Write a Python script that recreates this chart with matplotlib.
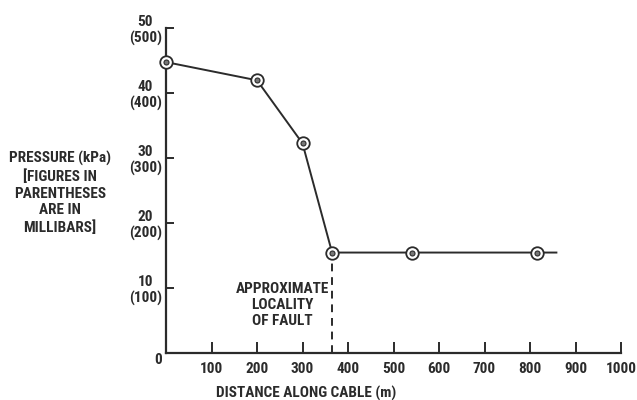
import matplotlib.pyplot as plt

# cable pressure survey
distancia = [0, 200, 300, 365, 540, 815]
pressao = [44.8, 42.0, 32.3, 15.5, 15.5, 15.5]
fim_linha = 858
falha = 365

xticks = [100, 200, 300, 400, 500, 600, 700, 800, 900, 1000]
yticks = [0, 10, 20, 30, 40, 50]
ylabels = ["0", "10\n(100)", "20\n(200)", "30\n(300)", "40\n(400)", "50\n(500)"]

cor = "#2b2b2b"
plt.rcParams['font.family'] = ['Roboto Condensed', 'DejaVu Sans']
peso = 'bold'
tam = 11

fig = plt.figure(figsize=(6.37, 4.0), dpi=100)
ax = fig.add_axes([166 / 637, 46.7 / 400, (621 - 166) / 637, (353.3 - 28.3) / 400])

ax.plot(distancia + [fim_linha], pressao + [pressao[-1]], color=cor, lw=1.4, zorder=2)
ax.plot(distancia, pressao, 'o', ms=9, mfc='white', mec=cor, mew=1.3, zorder=3,
        clip_on=False)
ax.plot(distancia, pressao, 'o', ms=3.6, mfc='#777777', mec=cor, mew=0.8, zorder=4,
        clip_on=False)

# dashed line marking the fault
ax.plot([falha, falha], [0, pressao[3]], color=cor, lw=1.4, ls=(0, (4, 3)), zorder=1)
ax.text(255, 7.4, "APPROXIMATE\nLOCALITY\nOF FAULT", ha='center', va='center',
        fontsize=tam, color=cor, fontweight=peso, linespacing=1.2)

ax.set_xlim(0, 1000)
ax.set_ylim(0, 50)
ax.spines['top'].set_visible(False)
ax.spines['right'].set_visible(False)
for s in ['left', 'bottom']:
    ax.spines[s].set_linewidth(1.6)
    ax.spines[s].set_color(cor)

ax.set_xticks(xticks)
ax.set_xticklabels([str(v) for v in xticks])
ax.set_yticks(yticks)
ax.set_yticklabels(ylabels)
ax.tick_params(axis='x', direction='in', length=8, width=1.4, colors=cor, pad=6,
               labelsize=tam)
ax.tick_params(axis='y', direction='in', length=6, width=1.4, colors=cor, pad=3,
               labelsize=tam)
for lab in ax.get_xticklabels() + ax.get_yticklabels():
    lab.set_fontweight(peso)
    lab.set_linespacing(1.15)
    lab.set_multialignment('center')
# the single zero sits below the corner
ax.get_yticklabels()[0].set_verticalalignment('top')
ax.yaxis.get_major_ticks()[0].tick1line.set_visible(False)

fig.text(60 / 637, 1 - 193 / 400,
         "PRESSURE (kPa)\n[FIGURES IN\nPARENTHESES\nARE IN\nMILLIBARS]",
         ha='center', va='center', fontsize=tam, color=cor, fontweight=peso,
         linespacing=1.25)
fig.text(306 / 637, 1 - 393 / 400, "DISTANCE ALONG CABLE (m)", ha='center',
         va='center', fontsize=tam, color=cor, fontweight=peso)

fig.savefig("out.png", dpi=100)
